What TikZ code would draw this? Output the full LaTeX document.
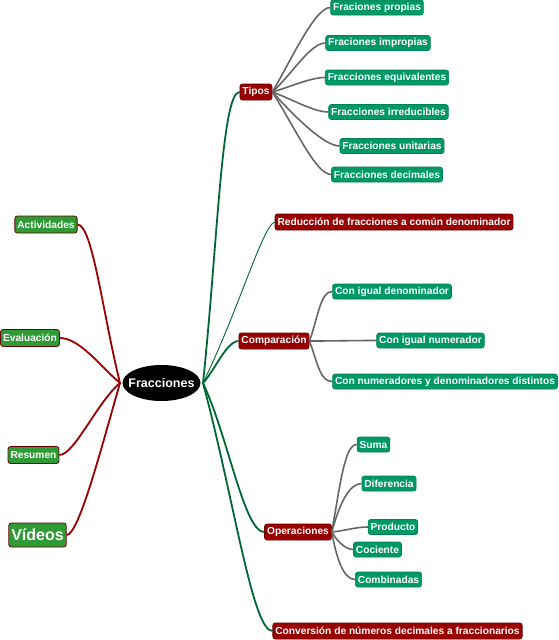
\documentclass[tikz,border=0pt]{standalone}
\usepackage{fontspec}
\setmainfont{Liberation Sans}
\usetikzlibrary{shapes.geometric}
\definecolor{darkred}{HTML}{990000}
\definecolor{redborder}{HTML}{6B0000}
\definecolor{leafgreen}{HTML}{009966}
\definecolor{leftgreen}{HTML}{2E9B36}
\definecolor{branchgreen}{HTML}{006633}
\definecolor{linegrey}{HTML}{666666}
\definecolor{linered}{HTML}{990000}
\tikzset{
  base/.style={rounded corners=2.5pt, font=\fontsize{10.2}{11}\selectfont\bfseries, text=white, inner xsep=2.5pt, inner ysep=0pt, minimum height=15pt},
  leaf/.style={base, fill=leafgreen, draw=leafgreen!85!black, line width=0.6pt},
  branch/.style={base, fill=darkred, draw=redborder, line width=0.8pt, minimum height=16pt},
  lefty/.style={base, fill=leftgreen, draw=redborder, line width=0.8pt, minimum height=17pt},
  redline/.style={draw=linered, line width=1.8pt},
  greenline/.style={draw=branchgreen, line width=1.8pt},
  greyline/.style={draw=linegrey, line width=1.6pt},
}
\begin{document}
\begin{tikzpicture}[x=1pt,y=-1pt]
\useasboundingbox (0,0) rectangle (559,640);
% center
\node[ellipse, fill=black, minimum width=78pt, minimum height=36pt, inner xsep=-12pt, inner ysep=0pt, text=white, font=\fontsize{12.5}{14}\selectfont\bfseries] (c) at (161.5,383) {Fracciones};
\coordinate (cl) at (120,383);
\coordinate (cr) at (203,383);
% left nodes
\node[lefty] (act) at (46,224.5) {Actividades};
\node[lefty] (eva) at (30,338) {Evaluación};
\node[lefty] (res) at (33.5,455) {Resumen};
\node[lefty, minimum height=24pt, font=\fontsize{16}{18}\selectfont\bfseries] (vid) at (37.5,535) {Vídeos};
% branches
\node[branch] (tip) at (256,92) {Tipos};
\node[branch] (red) at (394,222) {Reducción de fracciones a común denominador};
\node[branch] (com) at (274,341) {Comparación};
\node[branch] (ope) at (298,532) {Operaciones};
\node[branch] (con) at (397.5,631) {Conversión de números decimales a fraccionarios};
% tipos leaves
\node[leaf] (t1) at (377,7.5) {Fraciones propias};
\node[leaf] (t2) at (378,43) {Fraciones impropias};
\node[leaf] (t3) at (387,77.5) {Fracciones equivalentes};
\node[leaf] (t4) at (388.5,112) {Fracciones irreducibles};
\node[leaf] (t5) at (392,146) {Fracciones unitarias};
\node[leaf] (t6) at (387,174.5) {Fracciones decimales};
% comparacion leaves
\node[leaf] (c1) at (392,291.5) {Con igual denominador};
\node[leaf] (c2) at (430.5,340.5) {Con igual numerador};
\node[leaf] (c3) at (445,381.5) {Con numeradores y denominadores distintos};
% operaciones leaves
\node[leaf] (o1) at (373.5,444.5) {Suma};
\node[leaf] (o2) at (389,483.5) {Diferencia};
\node[leaf] (o3) at (393,527) {Producto};
\node[leaf] (o4) at (377.5,549.5) {Cociente};
\node[leaf] (o5) at (388.5,579.5) {Combinadas};
% left connectors
\draw[redline] (cl) to[out=104,in=0,out distance=70pt,in distance=15pt] (act.east);
\draw[redline] (cl) to[out=140,in=0,out distance=25pt,in distance=20pt] (eva.east);
\draw[redline] (cl) to[out=220,in=0,out distance=30pt,in distance=15pt] (res.east);
\draw[redline] (cl) to[out=254,in=0,out distance=70pt,in distance=12pt] (vid.east);
% right connectors
\draw[greenline] (cr) to[out=84,in=180,out distance=140pt,in distance=18pt] (tip.west);
\draw[greenline, line width=0.9pt] (cr) to[out=64,in=195,out distance=80pt,in distance=12pt] (red.west);
\draw[greenline] (cr) to[out=45,in=180,out distance=15pt,in distance=12pt] (com.west);
\draw[greenline] (cr) to[out=-65,in=180,out distance=60pt,in distance=20pt] (ope.west);
\draw[greenline] (cr) to[out=-75,in=180,out distance=120pt,in distance=20pt] (con.west);
% tipos
\draw[greyline] (tip.east) to[out=60,in=180,out distance=40pt,in distance=15pt] (t1.west);
\draw[greyline] (tip.east) to[out=42,in=180,out distance=25pt,in distance=15pt] (t2.west);
\draw[greyline] (tip.east) to[out=15,in=180,out distance=15pt,in distance=15pt] (t3.west);
\draw[greyline] (tip.east) to[out=-20,in=180,out distance=20pt,in distance=15pt] (t4.west);
\draw[greyline] (tip.east) to[out=-48,in=180,out distance=35pt,in distance=15pt] (t5.west);
\draw[greyline] (tip.east) to[out=-58,in=180,out distance=45pt,in distance=15pt] (t6.west);
% comparacion
\draw[greyline] (com.east) to[out=70,in=180,out distance=25pt,in distance=12pt] (c1.west);
\draw[greyline] (com.east) to[out=0,in=180] (c2.west);
\draw[greyline] (com.east) to[out=-70,in=180,out distance=25pt,in distance=12pt] (c3.west);
% operaciones
\draw[greyline] (ope.east) to[out=80,in=180,out distance=50pt,in distance=12pt] (o1.west);
\draw[greyline] (ope.east) to[out=75,in=180,out distance=30pt,in distance=12pt] (o2.west);
\draw[greyline] (ope.east) to[out=5,in=180,out distance=12pt,in distance=12pt] (o3.west);
\draw[greyline] (ope.east) to[out=-60,in=180,out distance=10pt,in distance=8pt] (o4.west);
\draw[greyline] (ope.east) to[out=-80,in=180,out distance=25pt,in distance=12pt] (o5.west);
\end{tikzpicture}
\end{document}
